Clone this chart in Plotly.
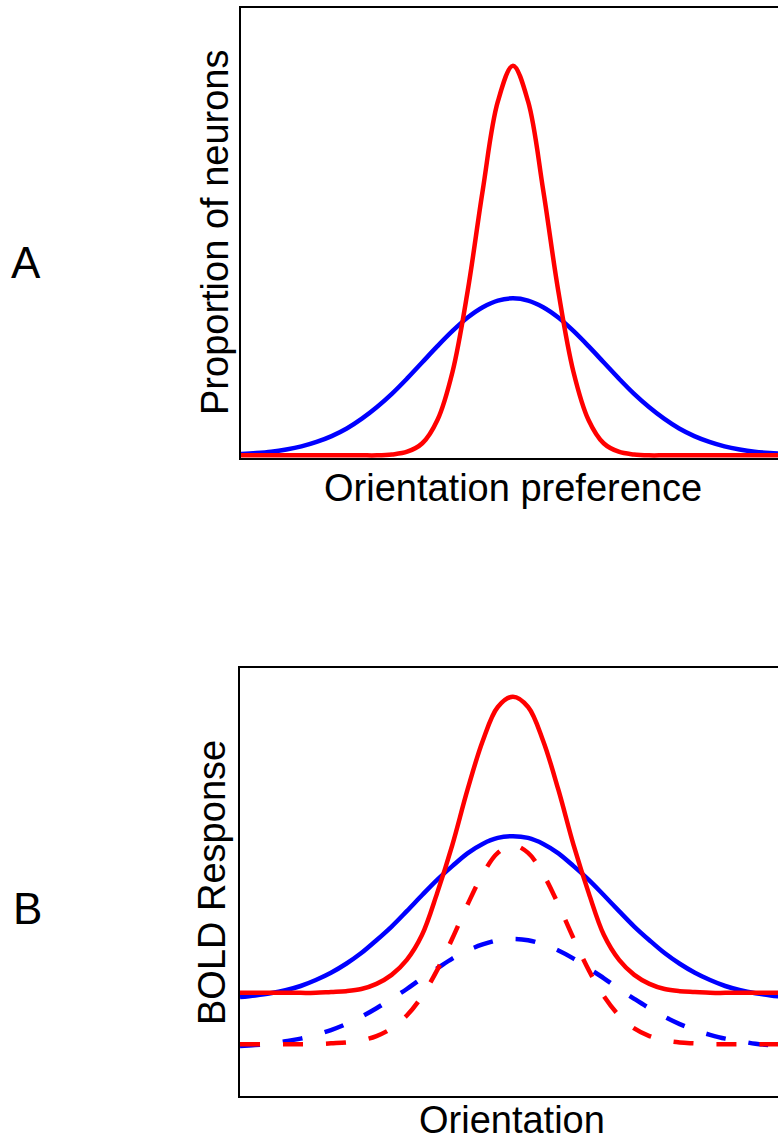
import plotly.graph_objects as go

# Orientation (degrees from preferred), shared by all curves
orientation = [-90, -85, -80, -75, -70, -65, -60, -55, -50, -45, -40, -35, -30, -25, -20, -15, -10, -5,
               0, 5, 10, 15, 20, 25, 30, 35, 40, 45, 50, 55, 60, 65, 70, 75, 80, 85, 90]

# Panel A: proportion of neurons (axis spans 0..1)
a_blue = [.003, .005, .008, .013, .020, .030, .043, .060, .082, .108, .138, .172, .208, .244, .278, .308, .331, .346,
          .351, .346, .331, .308, .278, .244, .208, .172, .138, .108, .082, .060, .043, .030, .020, .013, .008, .005, .003]
a_red = [0, 0, 0, 0, 0, 0, 0, 0, 0, 0, .002, .008, .027, .079, .187, .367, .593, .791,
         .871, .791, .593, .367, .187, .079, .027, .008, .002, 0, 0, 0, 0, 0, 0, 0, 0, 0, 0]

# Panel B: BOLD response (axis spans 0..1)
b_blue = [.231, .235, .240, .247, .257, .271, .288, .309, .334, .364, .396, .432, .469, .505, .537, .567, .589, .603,
          .607, .603, .589, .567, .537, .505, .469, .432, .396, .364, .334, .309, .288, .271, .257, .247, .240, .235, .231]
b_red = [.241, .241, .241, .241, .241, .241, .243, .245, .250, .262, .283, .318, .376, .474, .586, .715, .829, .909,
         .933, .909, .829, .715, .586, .474, .376, .318, .283, .262, .250, .245, .243, .241, .241, .241, .241, .241, .241]
b_blue_dash = [.117, .119, .122, .128, .134, .143, .154, .168, .185, .205, .227, .250, .275, .298, .321, .340, .354, .364,
               .367, .364, .354, .340, .321, .298, .275, .250, .227, .205, .185, .168, .154, .143, .134, .128, .122, .119, .117]
b_red_dash = [.121, .121, .121, .121, .121, .121, .123, .125, .130, .140, .158, .188, .233, .294, .368, .447, .518, .568,
              .586, .568, .518, .447, .368, .294, .233, .188, .158, .140, .130, .125, .123, .121, .121, .121, .121, .121, .121]

BLUE = "#0000FF"
RED = "#FF0000"
FONT = "Liberation Sans, Arial, sans-serif"
W, H = 778, 1137

fig = go.Figure()

def add(y, color, xa, ya, dash="solid"):
    fig.add_trace(go.Scatter(x=orientation, y=y, mode="lines", xaxis=xa, yaxis=ya,
                             line=dict(color=color, width=4.5, dash=dash, shape="spline", smoothing=1),
                             showlegend=False, hoverinfo="skip"))

add(a_blue, BLUE, "x", "y")
add(a_red, RED, "x", "y")
add(b_blue, BLUE, "x2", "y2")
add(b_red, RED, "x2", "y2")
add(b_blue_dash, BLUE, "x2", "y2", "20px,23px")
add(b_red_dash, RED, "x2", "y2", "20px,23px")

def px_x(v):
    return v / W

def px_y(v):
    return 1 - v / H

xcommon = dict(showgrid=False, zeroline=False, showticklabels=False, ticks="",
               showline=True, linecolor="black", linewidth=2, mirror=True, layer="below traces")
ycommon = dict(showgrid=False, zeroline=False, showticklabels=False, ticks="",
               showline=True, linecolor="black", linewidth=2, mirror=False, layer="below traces")

fig.update_layout(
    width=W, height=H, autosize=False,
    margin=dict(l=0, r=0, t=0, b=0),
    paper_bgcolor="white", plot_bgcolor="white",
    xaxis=dict(domain=[px_x(241), 1], range=[-90, 87.7], anchor="y", **xcommon),
    yaxis=dict(domain=[px_y(458), px_y(8)], range=[-0.006, 1.0], anchor="x", **ycommon),
    xaxis2=dict(domain=[px_x(240), 1], range=[-90, 87.4], anchor="y2", **xcommon),
    yaxis2=dict(domain=[px_y(1096), px_y(668)], range=[0, 1], anchor="x2", **ycommon),
)

def label(text, x, y, size, angle=0):
    fig.add_annotation(text=text, x=px_x(x), y=px_y(y), xref="paper", yref="paper",
                       xanchor="center", yanchor="middle", showarrow=False, textangle=angle,
                       font=dict(family=FONT, size=size, color="black"))

label("A", 26, 262, 44)
label("B", 27, 909, 44)
label("Proportion of neurons", 215, 233, 38, -90)
label("BOLD Response", 212, 882, 38, -90)
label("Orientation preference", 513, 488, 38)
label("Orientation", 512, 1120, 38)

fig.write_html("out.html")
